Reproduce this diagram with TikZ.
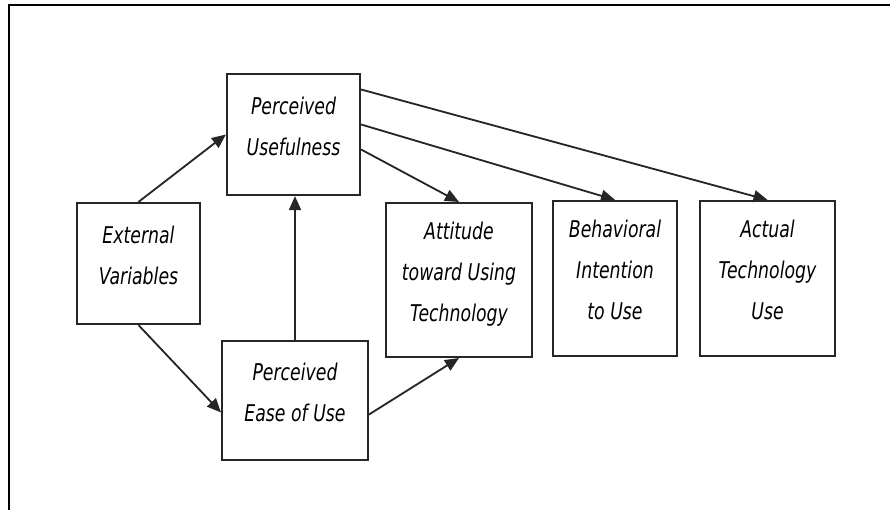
\documentclass[tikz,border=0pt]{standalone}
\usepackage{fontspec}
\setmainfont{DejaVu Sans}[FakeStretch=0.75]
\usepackage{tikz}
\usetikzlibrary{positioning,arrows.meta,calc}

\newcommand{\tamlift}{\rule[-0.42cm]{0pt}{0pt}}
\tikzset{
    tambox/.style={draw=black!85,line width=1.4pt,inner sep=0pt,align=center,
        text=black,font=\fontsize{16.4}{29.2}\selectfont\itshape},
    tamarrow/.style={draw=black!85,line width=1.3pt,-{Triangle[length=0.35cm,width=0.3cm]}}
}

\begin{document}
\begin{tikzpicture}[x=0.025cm,y=-0.025cm]
    \useasboundingbox (0,0) rectangle (890,510);
    \draw[line width=2.1pt] (9,510) -- (9,5) -- (890,5);
    \node[tambox,minimum width=3.08cm,minimum height=3.03cm] (ext) at (138.5,263.5) {External\\Variables\tamlift};
    \node[tambox,minimum width=3.33cm,minimum height=3.03cm] (pu) at (293.5,134.5) {Perceived\\Usefulness\tamlift};
    \node[tambox,minimum width=3.65cm,minimum height=2.98cm] (eou) at (295,400.5) {Perceived\\Ease of Use\tamlift};
    \node[tambox,minimum width=3.65cm,minimum height=3.85cm] (att) at (459,280) {Attitude\\toward Using\\Technology\tamlift};
    \node[tambox,minimum width=3.10cm,minimum height=3.88cm] (bi) at (615,278.5) {Behavioral\\Intention\\to Use\tamlift};
    \node[tambox,minimum width=3.38cm,minimum height=3.88cm] (atu) at (767.5,278.5) {Actual\\Technology\\Use\tamlift};
    \draw[tamarrow] (ext.north) -- (pu.west);
    \draw[tamarrow] (ext.south) -- ($(eou.west)+(0,12)$);
    \draw[tamarrow] (eou.north) -- (eou.north |- pu.south);
    \draw[tamarrow] ($(eou.east)+(0,14)$) -- (att.south);
    \draw[tamarrow] ($(pu.east)+(0,15)$) -- (att.north);
    \draw[tamarrow] ($(pu.east)+(0,-10)$) -- (bi.north);
    \draw[tamarrow] ($(pu.east)+(0,-45)$) -- (atu.north);
\end{tikzpicture}
\end{document}
